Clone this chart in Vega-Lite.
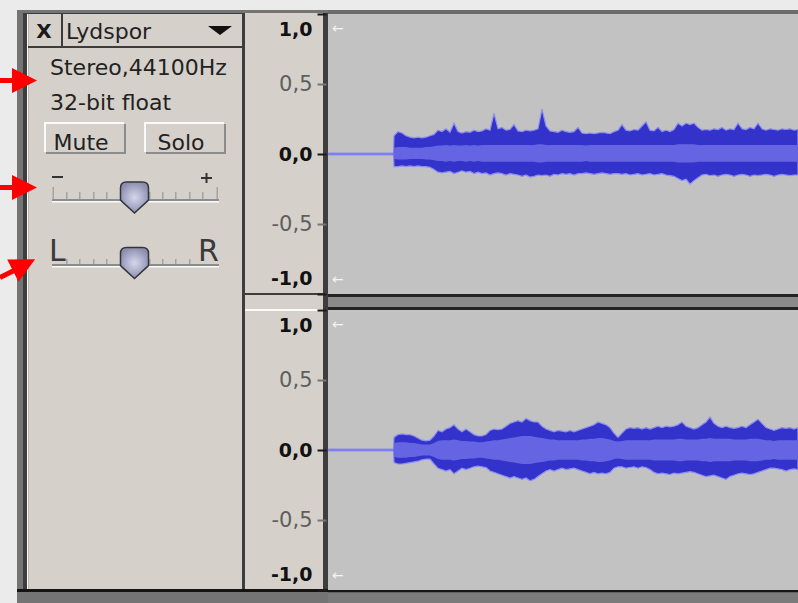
{
  "$schema": "https://vega.github.io/schema/vega-lite/v6.json",
  "background": "#ebebeb",
  "padding": {"left": 0, "top": 10, "right": 0, "bottom": 0},
  "config": {"view": {"stroke": null}, "font": "DejaVu Sans"},
  "datasets": {
    "left": [
      {"t":0,"hi":0.006,"lo":-0.006,"rh":0,"rl":0},
      {"t":0.655,"hi":0.006,"lo":-0.006,"rh":0,"rl":0},
      {"t":0.66,"hi":0.13,"lo":-0.09,"rh":0.045,"rl":-0.035},
      {"t":0.70,"hi":0.16,"lo":-0.09,"rh":0.05,"rl":-0.04},
      {"t":0.74,"hi":0.15,"lo":-0.085,"rh":0.05,"rl":-0.04},
      {"t":0.78,"hi":0.13,"lo":-0.09,"rh":0.05,"rl":-0.04},
      {"t":0.82,"hi":0.12,"lo":-0.085,"rh":0.045,"rl":-0.035},
      {"t":0.86,"hi":0.115,"lo":-0.09,"rh":0.045,"rl":-0.035},
      {"t":0.90,"hi":0.12,"lo":-0.085,"rh":0.045,"rl":-0.035},
      {"t":0.94,"hi":0.115,"lo":-0.09,"rh":0.045,"rl":-0.035},
      {"t":0.98,"hi":0.12,"lo":-0.09,"rh":0.05,"rl":-0.04},
      {"t":1.02,"hi":0.13,"lo":-0.095,"rh":0.05,"rl":-0.04},
      {"t":1.06,"hi":0.14,"lo":-0.11,"rh":0.055,"rl":-0.045},
      {"t":1.10,"hi":0.17,"lo":-0.13,"rh":0.06,"rl":-0.05},
      {"t":1.14,"hi":0.16,"lo":-0.135,"rh":0.06,"rl":-0.05},
      {"t":1.18,"hi":0.18,"lo":-0.13,"rh":0.065,"rl":-0.055},
      {"t":1.22,"hi":0.155,"lo":-0.125,"rh":0.06,"rl":-0.05},
      {"t":1.26,"hi":0.22,"lo":-0.14,"rh":0.065,"rl":-0.055},
      {"t":1.30,"hi":0.16,"lo":-0.13,"rh":0.06,"rl":-0.05},
      {"t":1.34,"hi":0.15,"lo":-0.12,"rh":0.06,"rl":-0.05},
      {"t":1.38,"hi":0.16,"lo":-0.13,"rh":0.065,"rl":-0.055},
      {"t":1.42,"hi":0.155,"lo":-0.125,"rh":0.06,"rl":-0.05},
      {"t":1.46,"hi":0.17,"lo":-0.14,"rh":0.065,"rl":-0.055},
      {"t":1.50,"hi":0.16,"lo":-0.13,"rh":0.06,"rl":-0.05},
      {"t":1.54,"hi":0.165,"lo":-0.14,"rh":0.065,"rl":-0.055},
      {"t":1.58,"hi":0.18,"lo":-0.135,"rh":0.065,"rl":-0.055},
      {"t":1.62,"hi":0.17,"lo":-0.15,"rh":0.065,"rl":-0.055},
      {"t":1.66,"hi":0.29,"lo":-0.14,"rh":0.065,"rl":-0.055},
      {"t":1.70,"hi":0.18,"lo":-0.135,"rh":0.065,"rl":-0.055},
      {"t":1.74,"hi":0.19,"lo":-0.14,"rh":0.065,"rl":-0.055},
      {"t":1.78,"hi":0.17,"lo":-0.15,"rh":0.065,"rl":-0.055},
      {"t":1.82,"hi":0.175,"lo":-0.14,"rh":0.065,"rl":-0.055},
      {"t":1.86,"hi":0.21,"lo":-0.145,"rh":0.065,"rl":-0.055},
      {"t":1.90,"hi":0.165,"lo":-0.15,"rh":0.065,"rl":-0.055},
      {"t":1.94,"hi":0.16,"lo":-0.16,"rh":0.065,"rl":-0.055},
      {"t":1.98,"hi":0.17,"lo":-0.15,"rh":0.065,"rl":-0.055},
      {"t":2.02,"hi":0.165,"lo":-0.165,"rh":0.065,"rl":-0.055},
      {"t":2.06,"hi":0.17,"lo":-0.16,"rh":0.065,"rl":-0.055},
      {"t":2.10,"hi":0.18,"lo":-0.15,"rh":0.07,"rl":-0.06},
      {"t":2.14,"hi":0.32,"lo":-0.155,"rh":0.07,"rl":-0.06},
      {"t":2.18,"hi":0.2,"lo":-0.15,"rh":0.065,"rl":-0.055},
      {"t":2.22,"hi":0.165,"lo":-0.16,"rh":0.065,"rl":-0.055},
      {"t":2.26,"hi":0.16,"lo":-0.145,"rh":0.065,"rl":-0.055},
      {"t":2.30,"hi":0.155,"lo":-0.15,"rh":0.065,"rl":-0.055},
      {"t":2.34,"hi":0.17,"lo":-0.14,"rh":0.065,"rl":-0.055},
      {"t":2.38,"hi":0.16,"lo":-0.145,"rh":0.065,"rl":-0.055},
      {"t":2.42,"hi":0.155,"lo":-0.14,"rh":0.065,"rl":-0.055},
      {"t":2.46,"hi":0.16,"lo":-0.15,"rh":0.065,"rl":-0.055},
      {"t":2.50,"hi":0.19,"lo":-0.14,"rh":0.065,"rl":-0.055},
      {"t":2.54,"hi":0.15,"lo":-0.14,"rh":0.065,"rl":-0.055},
      {"t":2.58,"hi":0.145,"lo":-0.135,"rh":0.06,"rl":-0.05},
      {"t":2.62,"hi":0.15,"lo":-0.14,"rh":0.065,"rl":-0.055},
      {"t":2.66,"hi":0.145,"lo":-0.145,"rh":0.065,"rl":-0.055},
      {"t":2.70,"hi":0.15,"lo":-0.14,"rh":0.065,"rl":-0.055},
      {"t":2.74,"hi":0.155,"lo":-0.135,"rh":0.065,"rl":-0.055},
      {"t":2.78,"hi":0.15,"lo":-0.14,"rh":0.065,"rl":-0.055},
      {"t":2.82,"hi":0.145,"lo":-0.145,"rh":0.065,"rl":-0.055},
      {"t":2.86,"hi":0.16,"lo":-0.14,"rh":0.065,"rl":-0.055},
      {"t":2.90,"hi":0.17,"lo":-0.14,"rh":0.065,"rl":-0.055},
      {"t":2.94,"hi":0.21,"lo":-0.145,"rh":0.065,"rl":-0.055},
      {"t":2.98,"hi":0.17,"lo":-0.14,"rh":0.065,"rl":-0.055},
      {"t":3.02,"hi":0.165,"lo":-0.15,"rh":0.065,"rl":-0.055},
      {"t":3.06,"hi":0.175,"lo":-0.145,"rh":0.065,"rl":-0.055},
      {"t":3.10,"hi":0.17,"lo":-0.14,"rh":0.065,"rl":-0.055},
      {"t":3.14,"hi":0.2,"lo":-0.15,"rh":0.065,"rl":-0.055},
      {"t":3.18,"hi":0.23,"lo":-0.145,"rh":0.065,"rl":-0.055},
      {"t":3.22,"hi":0.17,"lo":-0.14,"rh":0.065,"rl":-0.055},
      {"t":3.26,"hi":0.165,"lo":-0.15,"rh":0.065,"rl":-0.055},
      {"t":3.30,"hi":0.19,"lo":-0.145,"rh":0.065,"rl":-0.055},
      {"t":3.34,"hi":0.16,"lo":-0.14,"rh":0.065,"rl":-0.055},
      {"t":3.38,"hi":0.17,"lo":-0.15,"rh":0.065,"rl":-0.055},
      {"t":3.42,"hi":0.16,"lo":-0.155,"rh":0.065,"rl":-0.055},
      {"t":3.46,"hi":0.175,"lo":-0.16,"rh":0.065,"rl":-0.055},
      {"t":3.50,"hi":0.22,"lo":-0.175,"rh":0.07,"rl":-0.06},
      {"t":3.54,"hi":0.2,"lo":-0.19,"rh":0.07,"rl":-0.06},
      {"t":3.58,"hi":0.22,"lo":-0.18,"rh":0.07,"rl":-0.06},
      {"t":3.62,"hi":0.21,"lo":-0.215,"rh":0.07,"rl":-0.06},
      {"t":3.66,"hi":0.22,"lo":-0.19,"rh":0.07,"rl":-0.06},
      {"t":3.70,"hi":0.19,"lo":-0.17,"rh":0.065,"rl":-0.055},
      {"t":3.74,"hi":0.17,"lo":-0.15,"rh":0.065,"rl":-0.055},
      {"t":3.78,"hi":0.175,"lo":-0.145,"rh":0.065,"rl":-0.055},
      {"t":3.82,"hi":0.17,"lo":-0.155,"rh":0.065,"rl":-0.055},
      {"t":3.86,"hi":0.18,"lo":-0.15,"rh":0.065,"rl":-0.055},
      {"t":3.90,"hi":0.175,"lo":-0.16,"rh":0.065,"rl":-0.055},
      {"t":3.94,"hi":0.19,"lo":-0.15,"rh":0.065,"rl":-0.055},
      {"t":3.98,"hi":0.17,"lo":-0.145,"rh":0.065,"rl":-0.055},
      {"t":4.02,"hi":0.18,"lo":-0.15,"rh":0.065,"rl":-0.055},
      {"t":4.06,"hi":0.175,"lo":-0.16,"rh":0.065,"rl":-0.055},
      {"t":4.10,"hi":0.22,"lo":-0.15,"rh":0.065,"rl":-0.055},
      {"t":4.14,"hi":0.18,"lo":-0.145,"rh":0.065,"rl":-0.055},
      {"t":4.18,"hi":0.175,"lo":-0.15,"rh":0.065,"rl":-0.055},
      {"t":4.22,"hi":0.19,"lo":-0.16,"rh":0.065,"rl":-0.055},
      {"t":4.26,"hi":0.18,"lo":-0.15,"rh":0.065,"rl":-0.055},
      {"t":4.30,"hi":0.22,"lo":-0.155,"rh":0.065,"rl":-0.055},
      {"t":4.34,"hi":0.18,"lo":-0.15,"rh":0.065,"rl":-0.055},
      {"t":4.38,"hi":0.17,"lo":-0.145,"rh":0.065,"rl":-0.055},
      {"t":4.42,"hi":0.18,"lo":-0.15,"rh":0.065,"rl":-0.055},
      {"t":4.46,"hi":0.175,"lo":-0.16,"rh":0.065,"rl":-0.055},
      {"t":4.50,"hi":0.17,"lo":-0.15,"rh":0.065,"rl":-0.055},
      {"t":4.54,"hi":0.18,"lo":-0.145,"rh":0.065,"rl":-0.055},
      {"t":4.58,"hi":0.175,"lo":-0.15,"rh":0.065,"rl":-0.055},
      {"t":4.62,"hi":0.18,"lo":-0.155,"rh":0.065,"rl":-0.055},
      {"t":4.66,"hi":0.17,"lo":-0.15,"rh":0.065,"rl":-0.055},
      {"t":4.70,"hi":0.175,"lo":-0.15,"rh":0.065,"rl":-0.055}
    ],
    "right": [
      {"t":0,"hi":0.006,"lo":-0.006,"rh":0,"rl":0},
      {"t":0.655,"hi":0.006,"lo":-0.006,"rh":0,"rl":0},
      {"t":0.66,"hi":0.09,"lo":-0.09,"rh":0.05,"rl":-0.05},
      {"t":0.70,"hi":0.11,"lo":-0.1,"rh":0.055,"rl":-0.055},
      {"t":0.74,"hi":0.115,"lo":-0.1,"rh":0.055,"rl":-0.055},
      {"t":0.78,"hi":0.11,"lo":-0.095,"rh":0.055,"rl":-0.055},
      {"t":0.82,"hi":0.11,"lo":-0.09,"rh":0.05,"rl":-0.05},
      {"t":0.86,"hi":0.1,"lo":-0.085,"rh":0.05,"rl":-0.05},
      {"t":0.90,"hi":0.085,"lo":-0.08,"rh":0.045,"rl":-0.045},
      {"t":0.94,"hi":0.07,"lo":-0.07,"rh":0.04,"rl":-0.04},
      {"t":0.98,"hi":0.065,"lo":-0.065,"rh":0.04,"rl":-0.04},
      {"t":1.02,"hi":0.07,"lo":-0.065,"rh":0.04,"rl":-0.04},
      {"t":1.06,"hi":0.1,"lo":-0.1,"rh":0.05,"rl":-0.05},
      {"t":1.10,"hi":0.14,"lo":-0.13,"rh":0.065,"rl":-0.065},
      {"t":1.14,"hi":0.13,"lo":-0.14,"rh":0.07,"rl":-0.07},
      {"t":1.18,"hi":0.15,"lo":-0.15,"rh":0.07,"rl":-0.07},
      {"t":1.22,"hi":0.16,"lo":-0.14,"rh":0.07,"rl":-0.07},
      {"t":1.26,"hi":0.18,"lo":-0.17,"rh":0.075,"rl":-0.075},
      {"t":1.30,"hi":0.15,"lo":-0.15,"rh":0.07,"rl":-0.07},
      {"t":1.34,"hi":0.13,"lo":-0.13,"rh":0.065,"rl":-0.065},
      {"t":1.38,"hi":0.15,"lo":-0.14,"rh":0.065,"rl":-0.065},
      {"t":1.42,"hi":0.13,"lo":-0.13,"rh":0.06,"rl":-0.06},
      {"t":1.46,"hi":0.11,"lo":-0.12,"rh":0.06,"rl":-0.06},
      {"t":1.50,"hi":0.1,"lo":-0.115,"rh":0.055,"rl":-0.055},
      {"t":1.54,"hi":0.1,"lo":-0.12,"rh":0.055,"rl":-0.055},
      {"t":1.58,"hi":0.11,"lo":-0.125,"rh":0.06,"rl":-0.06},
      {"t":1.62,"hi":0.14,"lo":-0.15,"rh":0.065,"rl":-0.065},
      {"t":1.66,"hi":0.15,"lo":-0.16,"rh":0.07,"rl":-0.07},
      {"t":1.70,"hi":0.145,"lo":-0.17,"rh":0.07,"rl":-0.07},
      {"t":1.74,"hi":0.15,"lo":-0.18,"rh":0.075,"rl":-0.075},
      {"t":1.78,"hi":0.17,"lo":-0.19,"rh":0.08,"rl":-0.08},
      {"t":1.82,"hi":0.19,"lo":-0.2,"rh":0.085,"rl":-0.085},
      {"t":1.86,"hi":0.2,"lo":-0.19,"rh":0.09,"rl":-0.09},
      {"t":1.90,"hi":0.21,"lo":-0.2,"rh":0.095,"rl":-0.095},
      {"t":1.94,"hi":0.2,"lo":-0.21,"rh":0.1,"rl":-0.1},
      {"t":1.98,"hi":0.225,"lo":-0.2,"rh":0.1,"rl":-0.1},
      {"t":2.02,"hi":0.21,"lo":-0.22,"rh":0.1,"rl":-0.1},
      {"t":2.06,"hi":0.2,"lo":-0.21,"rh":0.095,"rl":-0.095},
      {"t":2.10,"hi":0.2,"lo":-0.19,"rh":0.09,"rl":-0.09},
      {"t":2.14,"hi":0.17,"lo":-0.17,"rh":0.085,"rl":-0.085},
      {"t":2.18,"hi":0.15,"lo":-0.15,"rh":0.08,"rl":-0.08},
      {"t":2.22,"hi":0.14,"lo":-0.14,"rh":0.075,"rl":-0.075},
      {"t":2.26,"hi":0.13,"lo":-0.15,"rh":0.075,"rl":-0.075},
      {"t":2.30,"hi":0.14,"lo":-0.14,"rh":0.07,"rl":-0.07},
      {"t":2.34,"hi":0.135,"lo":-0.13,"rh":0.07,"rl":-0.07},
      {"t":2.38,"hi":0.13,"lo":-0.14,"rh":0.07,"rl":-0.07},
      {"t":2.42,"hi":0.14,"lo":-0.135,"rh":0.07,"rl":-0.07},
      {"t":2.46,"hi":0.13,"lo":-0.13,"rh":0.07,"rl":-0.07},
      {"t":2.50,"hi":0.14,"lo":-0.14,"rh":0.07,"rl":-0.07},
      {"t":2.54,"hi":0.15,"lo":-0.15,"rh":0.075,"rl":-0.075},
      {"t":2.58,"hi":0.16,"lo":-0.16,"rh":0.075,"rl":-0.075},
      {"t":2.62,"hi":0.17,"lo":-0.17,"rh":0.08,"rl":-0.08},
      {"t":2.66,"hi":0.18,"lo":-0.16,"rh":0.08,"rl":-0.08},
      {"t":2.70,"hi":0.2,"lo":-0.17,"rh":0.085,"rl":-0.085},
      {"t":2.74,"hi":0.19,"lo":-0.165,"rh":0.085,"rl":-0.085},
      {"t":2.78,"hi":0.18,"lo":-0.17,"rh":0.08,"rl":-0.08},
      {"t":2.82,"hi":0.16,"lo":-0.16,"rh":0.075,"rl":-0.075},
      {"t":2.86,"hi":0.12,"lo":-0.13,"rh":0.065,"rl":-0.065},
      {"t":2.90,"hi":0.09,"lo":-0.12,"rh":0.06,"rl":-0.06},
      {"t":2.94,"hi":0.12,"lo":-0.12,"rh":0.065,"rl":-0.065},
      {"t":2.98,"hi":0.15,"lo":-0.13,"rh":0.07,"rl":-0.07},
      {"t":3.02,"hi":0.16,"lo":-0.125,"rh":0.07,"rl":-0.07},
      {"t":3.06,"hi":0.155,"lo":-0.12,"rh":0.07,"rl":-0.07},
      {"t":3.10,"hi":0.16,"lo":-0.13,"rh":0.07,"rl":-0.07},
      {"t":3.14,"hi":0.15,"lo":-0.12,"rh":0.07,"rl":-0.07},
      {"t":3.18,"hi":0.16,"lo":-0.125,"rh":0.07,"rl":-0.07},
      {"t":3.22,"hi":0.15,"lo":-0.14,"rh":0.07,"rl":-0.07},
      {"t":3.26,"hi":0.16,"lo":-0.16,"rh":0.075,"rl":-0.075},
      {"t":3.30,"hi":0.17,"lo":-0.17,"rh":0.075,"rl":-0.075},
      {"t":3.34,"hi":0.16,"lo":-0.165,"rh":0.075,"rl":-0.075},
      {"t":3.38,"hi":0.17,"lo":-0.17,"rh":0.075,"rl":-0.075},
      {"t":3.42,"hi":0.165,"lo":-0.175,"rh":0.075,"rl":-0.075},
      {"t":3.46,"hi":0.17,"lo":-0.165,"rh":0.075,"rl":-0.075},
      {"t":3.50,"hi":0.18,"lo":-0.17,"rh":0.08,"rl":-0.08},
      {"t":3.54,"hi":0.2,"lo":-0.165,"rh":0.08,"rl":-0.08},
      {"t":3.58,"hi":0.17,"lo":-0.16,"rh":0.075,"rl":-0.075},
      {"t":3.62,"hi":0.16,"lo":-0.155,"rh":0.075,"rl":-0.075},
      {"t":3.66,"hi":0.15,"lo":-0.16,"rh":0.075,"rl":-0.075},
      {"t":3.70,"hi":0.16,"lo":-0.17,"rh":0.075,"rl":-0.075},
      {"t":3.74,"hi":0.18,"lo":-0.18,"rh":0.08,"rl":-0.08},
      {"t":3.78,"hi":0.2,"lo":-0.19,"rh":0.08,"rl":-0.08},
      {"t":3.82,"hi":0.235,"lo":-0.185,"rh":0.085,"rl":-0.085},
      {"t":3.86,"hi":0.19,"lo":-0.18,"rh":0.08,"rl":-0.08},
      {"t":3.90,"hi":0.17,"lo":-0.19,"rh":0.08,"rl":-0.08},
      {"t":3.94,"hi":0.16,"lo":-0.2,"rh":0.08,"rl":-0.08},
      {"t":3.98,"hi":0.17,"lo":-0.21,"rh":0.08,"rl":-0.08},
      {"t":4.02,"hi":0.16,"lo":-0.19,"rh":0.08,"rl":-0.08},
      {"t":4.06,"hi":0.155,"lo":-0.18,"rh":0.075,"rl":-0.075},
      {"t":4.10,"hi":0.16,"lo":-0.17,"rh":0.075,"rl":-0.075},
      {"t":4.14,"hi":0.17,"lo":-0.165,"rh":0.075,"rl":-0.075},
      {"t":4.18,"hi":0.16,"lo":-0.17,"rh":0.075,"rl":-0.075},
      {"t":4.22,"hi":0.18,"lo":-0.175,"rh":0.08,"rl":-0.08},
      {"t":4.26,"hi":0.2,"lo":-0.17,"rh":0.08,"rl":-0.08},
      {"t":4.30,"hi":0.22,"lo":-0.16,"rh":0.08,"rl":-0.08},
      {"t":4.34,"hi":0.19,"lo":-0.15,"rh":0.075,"rl":-0.075},
      {"t":4.38,"hi":0.16,"lo":-0.14,"rh":0.07,"rl":-0.07},
      {"t":4.42,"hi":0.15,"lo":-0.13,"rh":0.07,"rl":-0.07},
      {"t":4.46,"hi":0.14,"lo":-0.13,"rh":0.065,"rl":-0.065},
      {"t":4.50,"hi":0.15,"lo":-0.135,"rh":0.07,"rl":-0.07},
      {"t":4.54,"hi":0.16,"lo":-0.14,"rh":0.07,"rl":-0.07},
      {"t":4.58,"hi":0.155,"lo":-0.15,"rh":0.07,"rl":-0.07},
      {"t":4.62,"hi":0.16,"lo":-0.14,"rh":0.07,"rl":-0.07},
      {"t":4.66,"hi":0.15,"lo":-0.135,"rh":0.07,"rl":-0.07},
      {"t":4.70,"hi":0.16,"lo":-0.14,"rh":0.07,"rl":-0.07}
    ]
  },
  "spacing": 0,
  "bounds": "flush",
  "hconcat": [
    {
      "width": 328,
      "height": 593,
      "layer": [
        {
          "data": {"values": [
            {"x0":0,"x1":17,"y0":10,"y1":603,"k":"light"},
            {"x0":17,"x1":328,"y0":10,"y1":603,"k":"frame"},
            {"x0":23,"x1":245,"y0":13,"y1":590,"k":"edge"},
            {"x0":27,"x1":28.5,"y0":14,"y1":589,"k":"hilite"},
            {"x0":28.5,"x1":242,"y0":14,"y1":589,"k":"face"},
            {"x0":245,"x1":323,"y0":13,"y1":589,"k":"face"},
            {"x0":323,"x1":328,"y0":13,"y1":590,"k":"edge"},
            {"x0":17,"x1":328,"y0":589,"y1":592,"k":"black"},
            {"x0":28,"x1":242,"y0":46,"y1":48,"k":"edge"},
            {"x0":61,"x1":63,"y0":14,"y1":47,"k":"edge"},
            {"x0":245,"x1":323,"y0":293,"y1":295,"k":"edge"},
            {"x0":245,"x1":323,"y0":309,"y1":311,"k":"hilite"},
            {"x0":46,"x1":126,"y0":124,"y1":154,"k":"shadow"},
            {"x0":44,"x1":124,"y0":122,"y1":152,"k":"hilite"},
            {"x0":46,"x1":124,"y0":124,"y1":152,"k":"face"},
            {"x0":146,"x1":226,"y0":124,"y1":154,"k":"shadow"},
            {"x0":144,"x1":224,"y0":122,"y1":152,"k":"hilite"},
            {"x0":146,"x1":224,"y0":124,"y1":152,"k":"face"},
            {"x0":52,"x1":219,"y0":199,"y1":201,"k":"shadow"},
            {"x0":52,"x1":219,"y0":201,"y1":202.5,"k":"hilite"},
            {"x0":52,"x1":219,"y0":264,"y1":266,"k":"shadow"},
            {"x0":52,"x1":219,"y0":266,"y1":267.5,"k":"hilite"},
            {"x0":52.5,"x1":54,"y0":187,"y1":199,"k":"tick"},
            {"x0":216.5,"x1":218,"y0":187,"y1":199,"k":"tick"},
            {"x0":66,"x1":67.5,"y0":192,"y1":199,"k":"tick"},
            {"x0":79,"x1":80.5,"y0":192,"y1":199,"k":"tick"},
            {"x0":93,"x1":94.5,"y0":192,"y1":199,"k":"tick"},
            {"x0":106,"x1":107.5,"y0":192,"y1":199,"k":"tick"},
            {"x0":149,"x1":150.5,"y0":192,"y1":199,"k":"tick"},
            {"x0":162,"x1":163.5,"y0":192,"y1":199,"k":"tick"},
            {"x0":175,"x1":176.5,"y0":192,"y1":199,"k":"tick"},
            {"x0":189,"x1":190.5,"y0":192,"y1":199,"k":"tick"},
            {"x0":202,"x1":203.5,"y0":192,"y1":199,"k":"tick"},
            {"x0":66,"x1":67.5,"y0":259,"y1":264,"k":"tick"},
            {"x0":79,"x1":80.5,"y0":259,"y1":264,"k":"tick"},
            {"x0":93,"x1":94.5,"y0":259,"y1":264,"k":"tick"},
            {"x0":106,"x1":107.5,"y0":259,"y1":264,"k":"tick"},
            {"x0":149,"x1":150.5,"y0":259,"y1":264,"k":"tick"},
            {"x0":162,"x1":163.5,"y0":259,"y1":264,"k":"tick"},
            {"x0":175,"x1":176.5,"y0":259,"y1":264,"k":"tick"},
            {"x0":189,"x1":190.5,"y0":259,"y1":264,"k":"tick"},
            {"x0":52,"x1":63,"y0":176,"y1":178,"k":"ink"},
            {"x0":201,"x1":212,"y0":177,"y1":179,"k":"ink"},
            {"x0":205.5,"x1":207.5,"y0":173,"y1":183,"k":"ink"}
          ]},
          "mark": {"type": "rect"},
          "encoding": {
            "x": {"field": "x0", "type": "quantitative", "scale": {"domain": [0, 328], "nice": false, "zero": false}, "axis": null},
            "x2": {"field": "x1"},
            "y": {"field": "y0", "type": "quantitative", "scale": {"domain": [10, 603], "nice": false, "zero": false, "reverse": true}, "axis": null},
            "y2": {"field": "y1"},
            "color": {
              "field": "k", "type": "nominal", "legend": null,
              "scale": {
                "domain": ["light", "frame", "edge", "face", "hilite", "shadow", "black", "tick", "ink"],
                "range": ["#ebebeb", "#747474", "#3d3d3d", "#d5d1ca", "#fafafa", "#8c8c8c", "#141414", "#a4a4a4", "#333333"]
              }
            }
          }
        },
        {
          "data": {"values": [
            {"x": 66, "y": 39, "s": "Lydspor"},
            {"x": 50, "y": 75, "s": "Stereo,44100Hz"},
            {"x": 50, "y": 110, "s": "32-bit float"}
          ]},
          "mark": {"type": "text", "align": "left", "baseline": "alphabetic", "fontSize": 22, "color": "#222222"},
          "encoding": {
            "x": {"field": "x", "type": "quantitative", "scale": {"domain": [0, 328], "nice": false, "zero": false}, "axis": null},
            "y": {"field": "y", "type": "quantitative", "scale": {"domain": [10, 603], "nice": false, "zero": false, "reverse": true}, "axis": null},
            "text": {"field": "s"}
          }
        },
        {
          "data": {"values": [
            {"x": 81, "y": 150, "s": "Mute"},
            {"x": 181, "y": 150, "s": "Solo"}
          ]},
          "mark": {"type": "text", "align": "center", "baseline": "alphabetic", "fontSize": 22, "color": "#222222"},
          "encoding": {
            "x": {"field": "x", "type": "quantitative", "scale": {"domain": [0, 328], "nice": false, "zero": false}, "axis": null},
            "y": {"field": "y", "type": "quantitative", "scale": {"domain": [10, 603], "nice": false, "zero": false, "reverse": true}, "axis": null},
            "text": {"field": "s"}
          }
        },
        {
          "data": {"values": [{"x": 44, "y": 38, "s": "X"}]},
          "mark": {"type": "text", "align": "center", "baseline": "alphabetic", "fontSize": 20, "fontWeight": "bold", "color": "#1a1a1a"},
          "encoding": {
            "x": {"field": "x", "type": "quantitative", "scale": {"domain": [0, 328], "nice": false, "zero": false}, "axis": null},
            "y": {"field": "y", "type": "quantitative", "scale": {"domain": [10, 603], "nice": false, "zero": false, "reverse": true}, "axis": null},
            "text": {"field": "s"}
          }
        },
        {
          "data": {"values": [
            {"x": 49, "y": 261, "s": "L"},
            {"x": 198, "y": 261, "s": "R"}
          ]},
          "mark": {"type": "text", "align": "left", "baseline": "alphabetic", "fontSize": 30, "color": "#3a3a3a"},
          "encoding": {
            "x": {"field": "x", "type": "quantitative", "scale": {"domain": [0, 328], "nice": false, "zero": false}, "axis": null},
            "y": {"field": "y", "type": "quantitative", "scale": {"domain": [10, 603], "nice": false, "zero": false, "reverse": true}, "axis": null},
            "text": {"field": "s"}
          }
        },
        {
          "data": {"values": [{"x": 220, "y": 30.5}]},
          "mark": {"type": "point", "shape": "M-1,-0.38L1,-0.38L0,0.38Z", "size": 576, "filled": true, "opacity": 1, "color": "#111111"},
          "encoding": {
            "x": {"field": "x", "type": "quantitative", "scale": {"domain": [0, 328], "nice": false, "zero": false}, "axis": null},
            "y": {"field": "y", "type": "quantitative", "scale": {"domain": [10, 603], "nice": false, "zero": false, "reverse": true}, "axis": null}
          }
        },
        {
          "data": {"values": [{"x": 134.5, "y": 197.5}, {"x": 134.5, "y": 263}]},
          "mark": {
            "type": "point",
            "shape": "M-0.5,-0.97L0.5,-0.97Q0.875,-0.97 0.875,-0.6L0.875,0.16L0,0.97L-0.875,0.16L-0.875,-0.6Q-0.875,-0.97 -0.5,-0.97Z",
            "size": 1024, "filled": true, "opacity": 1,
            "fill": {"gradient": "radial", "stops": [{"offset": 0, "color": "#d6d7ec"}, {"offset": 1, "color": "#8c8eb0"}]},
            "stroke": "#34343e", "strokeWidth": 1.5
          },
          "encoding": {
            "x": {"field": "x", "type": "quantitative", "scale": {"domain": [0, 328], "nice": false, "zero": false}, "axis": null},
            "y": {"field": "y", "type": "quantitative", "scale": {"domain": [10, 603], "nice": false, "zero": false, "reverse": true}, "axis": null}
          }
        },
        {
          "data": {"values": [
            {"x": 0, "y": 80.5, "xb": 16, "yb": 80.5},
            {"x": 0, "y": 187.5, "xb": 16, "yb": 187.5},
            {"x": 0, "y": 277.5, "xb": 16, "yb": 269.5}
          ]},
          "mark": {"type": "rule", "color": "#ff0000", "strokeWidth": 5, "clip": true},
          "encoding": {
            "x": {"field": "x", "type": "quantitative", "scale": {"domain": [0, 328], "nice": false, "zero": false}, "axis": null},
            "y": {"field": "y", "type": "quantitative", "scale": {"domain": [10, 603], "nice": false, "zero": false, "reverse": true}, "axis": null},
            "x2": {"field": "xb"},
            "y2": {"field": "yb"}
          }
        },
        {
          "data": {"values": [{"x": 24.5, "y": 80.5}, {"x": 24.5, "y": 187.5}]},
          "mark": {"type": "point", "shape": "M-1,-1L1,0L-1,1Z", "size": 625, "filled": true, "opacity": 1, "color": "#ff0000"},
          "encoding": {
            "x": {"field": "x", "type": "quantitative", "scale": {"domain": [0, 328], "nice": false, "zero": false}, "axis": null},
            "y": {"field": "y", "type": "quantitative", "scale": {"domain": [10, 603], "nice": false, "zero": false, "reverse": true}, "axis": null}
          }
        },
        {
          "data": {"values": [{"x": 24, "y": 265}]},
          "mark": {"type": "point", "shape": "M-1,-1L1,0L-1,1Z", "size": 625, "angle": 333, "filled": true, "opacity": 1, "color": "#ff0000"},
          "encoding": {
            "x": {"field": "x", "type": "quantitative", "scale": {"domain": [0, 328], "nice": false, "zero": false}, "axis": null},
            "y": {"field": "y", "type": "quantitative", "scale": {"domain": [10, 603], "nice": false, "zero": false, "reverse": true}, "axis": null}
          }
        }
      ]
    },
    {
      "spacing": 0,
      "bounds": "flush",
      "vconcat": [
        {
          "width": 470,
          "height": 4,
          "view": {"fill": "#6c6c6c", "stroke": null},
          "data": {"values": []},
          "mark": "point",
          "encoding": {}
        },
        {
          "width": 470,
          "height": 280,
          "view": {"fill": "#c2c2c2", "stroke": null},
          "data": {"name": "left"},
          "layer": [
            {
              "mark": {"type": "area", "color": "#3333cc", "stroke": "#8d8df2", "strokeWidth": 1.2, "clip": true},
              "encoding": {
                "x": {"field": "t", "type": "quantitative", "scale": {"domain": [0, 4.7], "nice": false, "zero": false}, "axis": null},
                "y": {
                  "field": "lo", "type": "quantitative",
                  "scale": {"domain": [-1, 1], "nice": false, "zero": false},
                  "axis": {
                    "values": [-1, -0.5, 0, 0.5, 1],
                    "labelExpr": "(datum.value < 0 ? '-' : '') + replace(format(abs(datum.value), '.1f'), '.', ',')",
                    "title": null, "domain": false, "grid": false,
                    "offset": 2, "tickSize": 9, "tickWidth": 2,
                    "tickColor": {"condition": {"test": "abs(datum.value) == 0.5", "value": "#777777"}, "value": "#1a1a1a"},
                    "labelColor": {"condition": {"test": "abs(datum.value) == 0.5", "value": "#5e5e5e"}, "value": "#111111"},
                    "labelFontWeight": {"condition": {"test": "abs(datum.value) == 0.5", "value": "normal"}, "value": "bold"},
                    "labelFontSize": {"condition": {"test": "abs(datum.value) == 0.5", "value": 21}, "value": 19},
                    "labelFont": "DejaVu Sans",
                    "labelPadding": 5,
                    "labelFlush": true,
                    "labelFlushOffset": -6,
                    "labelOverlap": false,
                    "labelBound": false
                  }
                },
                "y2": {"field": "hi"}
              }
            },
            {
              "mark": {"type": "area", "color": "#6565e3", "clip": true},
              "encoding": {
                "x": {"field": "t", "type": "quantitative", "scale": {"domain": [0, 4.7], "nice": false, "zero": false}, "axis": null},
                "y": {"field": "rl", "type": "quantitative", "scale": {"domain": [-1, 1], "nice": false, "zero": false}},
                "y2": {"field": "rh"}
              }
            },
            {
              "data": {"values": [{"t": 0.04, "a": 0.89}, {"t": 0.04, "a": -0.9}]},
              "mark": {"type": "text", "text": "←", "align": "left", "baseline": "middle", "fontSize": 14, "color": "#f4f4f4"},
              "encoding": {
                "x": {"field": "t", "type": "quantitative", "scale": {"domain": [0, 4.7], "nice": false, "zero": false}, "axis": null},
                "y": {"field": "a", "type": "quantitative", "scale": {"domain": [-1, 1], "nice": false, "zero": false}}
              }
            }
          ]
        },
        {
          "width": 470,
          "height": 16,
          "view": {"fill": "#8a8a8a", "stroke": null},
          "data": {"values": [{"v": 1.5}, {"v": 14.5}]},
          "mark": {"type": "rule", "color": "#232323", "strokeWidth": 3, "clip": true},
          "encoding": {
            "y": {"field": "v", "type": "quantitative", "scale": {"domain": [0, 16], "nice": false, "zero": false, "reverse": true}, "axis": null}
          }
        },
        {
          "width": 470,
          "height": 280,
          "view": {"fill": "#c2c2c2", "stroke": null},
          "data": {"name": "right"},
          "layer": [
            {
              "mark": {"type": "area", "color": "#3333cc", "stroke": "#8d8df2", "strokeWidth": 1.2, "clip": true},
              "encoding": {
                "x": {"field": "t", "type": "quantitative", "scale": {"domain": [0, 4.7], "nice": false, "zero": false}, "axis": null},
                "y": {
                  "field": "lo", "type": "quantitative",
                  "scale": {"domain": [-1, 1], "nice": false, "zero": false},
                  "axis": {
                    "values": [-1, -0.5, 0, 0.5, 1],
                    "labelExpr": "(datum.value < 0 ? '-' : '') + replace(format(abs(datum.value), '.1f'), '.', ',')",
                    "title": null, "domain": false, "grid": false,
                    "offset": 2, "tickSize": 9, "tickWidth": 2,
                    "tickColor": {"condition": {"test": "abs(datum.value) == 0.5", "value": "#777777"}, "value": "#1a1a1a"},
                    "labelColor": {"condition": {"test": "abs(datum.value) == 0.5", "value": "#5e5e5e"}, "value": "#111111"},
                    "labelFontWeight": {"condition": {"test": "abs(datum.value) == 0.5", "value": "normal"}, "value": "bold"},
                    "labelFontSize": {"condition": {"test": "abs(datum.value) == 0.5", "value": 21}, "value": 19},
                    "labelFont": "DejaVu Sans",
                    "labelPadding": 5,
                    "labelFlush": true,
                    "labelFlushOffset": -6,
                    "labelOverlap": false,
                    "labelBound": false
                  }
                },
                "y2": {"field": "hi"}
              }
            },
            {
              "mark": {"type": "area", "color": "#6565e3", "clip": true},
              "encoding": {
                "x": {"field": "t", "type": "quantitative", "scale": {"domain": [0, 4.7], "nice": false, "zero": false}, "axis": null},
                "y": {"field": "rl", "type": "quantitative", "scale": {"domain": [-1, 1], "nice": false, "zero": false}},
                "y2": {"field": "rh"}
              }
            },
            {
              "data": {"values": [{"t": 0.04, "a": 0.89}, {"t": 0.04, "a": -0.9}]},
              "mark": {"type": "text", "text": "←", "align": "left", "baseline": "middle", "fontSize": 14, "color": "#f4f4f4"},
              "encoding": {
                "x": {"field": "t", "type": "quantitative", "scale": {"domain": [0, 4.7], "nice": false, "zero": false}, "axis": null},
                "y": {"field": "a", "type": "quantitative", "scale": {"domain": [-1, 1], "nice": false, "zero": false}}
              }
            }
          ]
        },
        {
          "width": 470,
          "height": 13,
          "view": {"fill": "#7b7b7b", "stroke": null},
          "data": {"values": [{"v": 1}]},
          "mark": {"type": "rule", "color": "#141414", "strokeWidth": 2.5, "clip": true},
          "encoding": {
            "y": {"field": "v", "type": "quantitative", "scale": {"domain": [0, 13], "nice": false, "zero": false, "reverse": true}, "axis": null}
          }
        }
      ]
    }
  ]
}
